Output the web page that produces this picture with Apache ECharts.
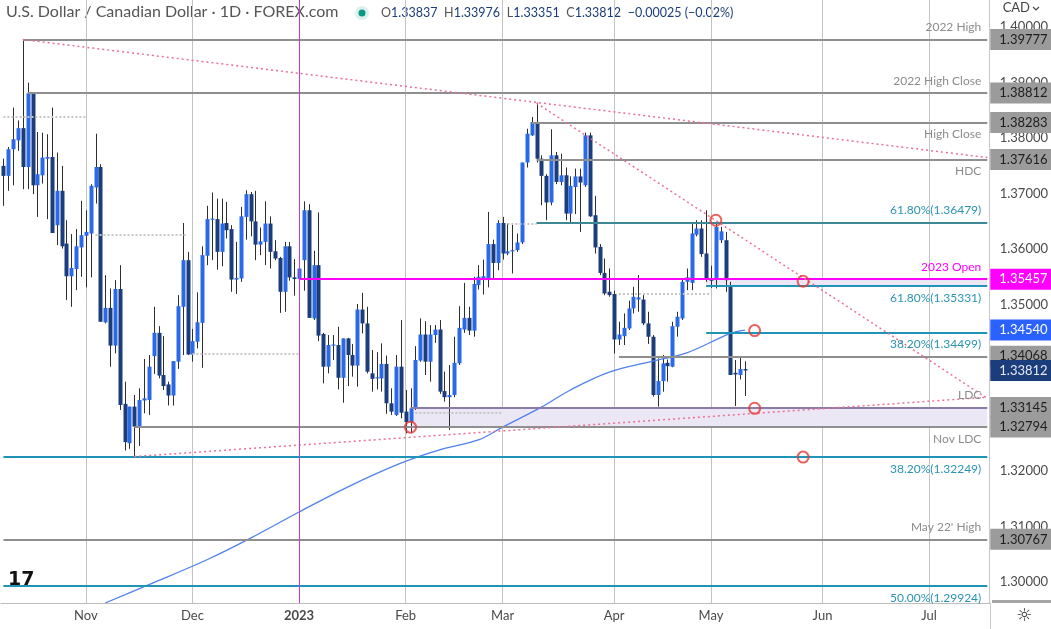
<!DOCTYPE html>
<html lang="en">
<head>
<meta charset="UTF-8">
<title>USD/CAD 1D</title>
<style>
  html, body {margin: 0; padding: 0; background: #fff;}
  #chart {width: 1051px; height: 629px;}
</style>
</head>
<body>
<div id="chart"></div>
<script src="https://cdn.jsdelivr.net/npm/echarts@6/dist/echarts.min.js"></script>
<script>
const FONT = 'Lato, "DejaVu Sans", sans-serif';

// one bar per weekday, starting Fri 7 Oct 2022
const firstDay = [2022, 9, 7];
const dayCount = 204;
const monthLabels = ['2023', 'Feb', 'Mar', 'Apr', 'May', 'Jun', 'Jul', 'Aug', 'Sep', 'Oct', 'Nov', 'Dec'];

// daily candles (index 0 = 2022-10-07, last = 2023-05-10)
const opens = [
  1.3750,1.3732,1.3780,1.3796,1.3818,1.3748,1.3882,1.3715,1.3733,1.3763,
  1.3766,1.3643,1.3705,1.3610,1.3551,1.3564,1.3603,1.3624,1.3628,1.3711,
  1.3748,1.3468,1.3494,1.3426,1.3528,1.3321,1.3250,1.3316,1.3280,1.3327,
  1.3328,1.3407,1.3449,1.3373,1.3356,1.3336,1.3397,1.3496,1.3580,1.3410,
  1.3433,1.3467,1.3588,1.3653,1.3654,1.3595,1.3647,1.3636,1.3545,1.3547,
  1.3658,1.3699,1.3650,1.3608,1.3613,1.3646,1.3596,1.3584,1.3523,1.3605,
  1.3549,1.3546,1.3580,1.3670,1.3475,1.3571,1.3447,1.3388,1.3426,1.3427,
  1.3368,1.3439,1.3409,1.3390,1.3491,1.3466,1.3376,1.3367,1.3367,1.3393,
  1.3322,1.3301,1.3388,1.3307,1.3288,1.3313,1.3399,1.3446,1.3397,1.3445,
  1.3455,1.3344,1.3333,1.3337,1.3394,1.3455,1.3476,1.3453,1.3535,1.3547,
  1.3547,1.3609,1.3575,1.3647,1.3592,1.3596,1.3598,1.3612,1.3756,1.3805,
  1.3829,1.3763,1.3732,1.3684,1.3769,1.3721,1.3733,1.3664,1.3712,1.3731,
  1.3715,1.3805,1.3661,1.3604,1.3557,1.3523,1.3519,1.3437,1.3443,1.3457,
  1.3493,1.3509,1.3509,1.3466,1.3442,1.3337,1.3362,1.3395,1.3388,1.3460,
  1.3475,1.3541,1.3539,1.3626,1.3637,1.3592,1.3547,1.3547,1.3616,1.3616,
  1.3535,1.3377,1.3373,1.33837
];
const closes = [
  1.3732,1.3780,1.3798,1.3818,1.3748,1.3881,1.3715,1.3735,1.3765,1.3766,
  1.3629,1.3705,1.3605,1.3551,1.3566,1.3605,1.3625,1.3631,1.3714,1.3748,
  1.3469,1.3494,1.3426,1.3528,1.3319,1.3252,1.3316,1.3280,1.3328,1.3331,
  1.3388,1.3449,1.3372,1.3353,1.3336,1.3398,1.3497,1.3580,1.3410,1.3434,
  1.3468,1.3589,1.3654,1.3655,1.3595,1.3646,1.3634,1.3545,1.3548,1.3659,
  1.3699,1.3650,1.3608,1.3614,1.3646,1.3595,1.3583,1.3523,1.3605,1.3549,
  1.3546,1.3565,1.3670,1.3476,1.3571,1.3444,1.3388,1.3427,1.3428,1.3368,
  1.3439,1.3409,1.3390,1.3491,1.3466,1.3379,1.3366,1.3369,1.3393,1.3322,
  1.3307,1.3388,1.3305,1.3288,1.3313,1.3400,1.3446,1.3397,1.3446,1.3455,
  1.3343,1.3333,1.3337,1.3395,1.3458,1.3476,1.3453,1.3537,1.3550,1.3551,
  1.3609,1.3575,1.3647,1.3592,1.3596,1.3598,1.3612,1.3756,1.3808,1.3829,
  1.3763,1.3732,1.3684,1.3769,1.3721,1.3733,1.3664,1.3714,1.3731,1.3720,
  1.3805,1.3659,1.3603,1.3557,1.3520,1.3517,1.3437,1.3446,1.3458,1.3493,
  1.3514,1.3513,1.3466,1.3442,1.3337,1.3362,1.3394,1.3389,1.3461,1.3478,
  1.3541,1.3549,1.3628,1.3637,1.3591,1.3547,1.3543,1.3640,1.3632,1.3544,
  1.3373,1.3374,1.33837,1.33812
];
const lows = [
  1.3678,1.3705,1.3715,1.3777,1.3708,1.3708,1.3699,1.3658,1.3718,1.3654,
  1.3629,1.3607,1.3601,1.3508,1.3496,1.3526,1.3550,1.3531,1.3549,1.3682,
  1.3469,1.3466,1.3388,1.3412,1.3310,1.3237,1.3240,1.3226,1.3245,1.3304,
  1.3301,1.3375,1.3367,1.3346,1.3318,1.3318,1.3384,1.3409,1.3409,1.3397,
  1.3421,1.3386,1.3571,1.3580,1.3563,1.3569,1.3619,1.3523,1.3519,1.3541,
  1.3617,1.3623,1.3580,1.3589,1.3571,1.3565,1.3580,1.3485,1.3487,1.3543,
  1.3516,1.3545,1.3525,1.3476,1.3472,1.3434,1.3358,1.3376,1.3400,1.3347,
  1.3323,1.3353,1.3370,1.3352,1.3448,1.3376,1.3343,1.3347,1.3343,1.3303,
  1.3301,1.3299,1.3295,1.3268,1.3268,1.3310,1.3397,1.3373,1.3361,1.3431,
  1.3339,1.3325,1.3274,1.3333,1.3391,1.3449,1.3445,1.3442,1.3527,1.3518,
  1.3531,1.3546,1.3562,1.3581,1.3589,1.3556,1.3595,1.3609,1.3747,1.3804,
  1.3756,1.3679,1.3652,1.3679,1.3717,1.3715,1.3652,1.3647,1.3663,1.3631,
  1.3712,1.3658,1.3592,1.3553,1.3517,1.3514,1.3412,1.3427,1.3427,1.3454,
  1.3484,1.3487,1.3463,1.3429,1.3334,1.3316,1.3343,1.3361,1.3387,1.3442,
  1.3472,1.3526,1.3526,1.3623,1.3586,1.3541,1.3530,1.3529,1.3611,1.3523,
  1.3373,1.3317,1.3365,1.33351
];
const highs = [
  1.3763,1.3784,1.3855,1.3832,1.39777,1.3900,1.3882,1.3811,1.3810,1.3807,
  1.3855,1.3774,1.3750,1.3652,1.3627,1.3636,1.3687,1.3670,1.3717,1.3808,
  1.3753,1.3553,1.3529,1.3544,1.3571,1.3361,1.3316,1.3337,1.3349,1.3402,
  1.3409,1.3496,1.3461,1.3443,1.3361,1.3398,1.3517,1.3647,1.3595,1.3456,
  1.3522,1.3605,1.3678,1.3702,1.3691,1.3691,1.3685,1.3643,1.3613,1.3676,
  1.3706,1.3703,1.3705,1.3639,1.3686,1.3659,1.3616,1.3586,1.3613,1.3613,
  1.3582,1.3568,1.3686,1.3681,1.3597,1.3666,1.3449,1.3445,1.3445,1.3460,
  1.3439,1.3440,1.3429,1.3501,1.3521,1.3496,1.3418,1.3414,1.3430,1.3408,
  1.3349,1.3409,1.3472,1.3346,1.3349,1.3425,1.3475,1.3470,1.3463,1.3463,
  1.3472,1.3379,1.3391,1.3442,1.3497,1.3539,1.3496,1.3550,1.3571,1.3581,
  1.3667,1.3617,1.3652,1.3658,1.3646,1.3646,1.3628,1.3756,1.3817,1.3838,
  1.3864,1.3769,1.3735,1.3816,1.3775,1.3772,1.3747,1.3731,1.3745,1.3745,
  1.3810,1.3810,1.3696,1.3609,1.3583,1.3565,1.3525,1.3469,1.3484,1.3507,
  1.3532,1.3553,1.3517,1.3487,1.3445,1.3403,1.3409,1.3401,1.3469,1.3487,
  1.3547,1.3565,1.3649,1.3652,1.3652,1.3670,1.3570,1.3649,1.3640,1.3631,
  1.3541,1.3400,1.3406,1.33976
];

// 200-day moving average, read at a few bars
const maIdx = [21, 30, 42, 51, 61, 71, 82, 90, 98, 103, 111, 117, 125, 134, 141, 150, 153];
const maVal = [1.2962, 1.2995, 1.3040, 1.3079, 1.3126, 1.3171, 1.3214, 1.3238, 1.3256, 1.3279, 1.3315, 1.3346, 1.3378, 1.3398, 1.3413, 1.3448, 1.3454];

// horizontal levels drawn on the chart
const levels     = [1.39777, 1.38812, 1.38283, 1.37616, 1.36479, 1.35457, 1.35331, 1.34499, 1.34068, 1.33145, 1.32794, 1.32249, 1.30767, 1.29924];
const levelStart = [4, 5, 109, 110, 110, 61, 145, 145, 127, 84, 27, 0, 0, 0];
const levelNames = ['2022 High', '2022 High Close', 'High Close', 'HDC', '61.80%(1.36479)', '2023 Open', '61.80%(1.35331)',
                    '38.20%(1.34499)', '', 'LDC', 'Nov LDC', '38.20%(1.32249)', "May 22' High", '50.00%(1.29924)'];
const levelKinds = ['grey', 'grey', 'grey', 'grey', 'fibDark', 'open', 'fib', 'fib', 'grey', 'ldc', 'grey', 'fib', 'grey', 'fib'];
const nameBelow  = [false, false, true, true, false, false, true, true, false, false, true, true, false, true];
const boxedLevels = [1.39777, 1.38812, 1.38283, 1.37616, 1.35457, 1.34068, 1.33145, 1.32794, 1.30767];

// shaded zones [fromBar, top, bottom]
const zones = [[84, 1.33145, 1.32794], [145, 1.35457, 1.35331]];

// short dotted grey levels
const dotLevels = [1.3838, 1.3625, 1.3411, 1.3305, 1.3646, 1.3519];
const dotFrom   = [0, 19, 39, 85, 104, 127];
const dotTo     = [17, 38, 61, 103, 110, 146];

// trendlines [bar, price] -> [bar, price]
const trendFrom = [[4, 1.39777], [110, 1.3863], [27, 1.3226]];
const trendTo   = [[203, 1.3765], [203, 1.3331], [203, 1.3333]];

// red circle markers
const circleX = [84, 147, 165, 155, 155, 165];
const circleY = [1.3279, 1.3652, 1.3542, 1.3453, 1.3313, 1.3225];

const lastClose = 1.33812;
const lastMa = 1.34540;

// ---------------------------------------------------------------
const days = [];
(function () {
  const d = new Date(Date.UTC(firstDay[0], firstDay[1], firstDay[2]));
  while (days.length < dayCount) {
    const wd = d.getUTCDay();
    if (wd !== 0 && wd !== 6) days.push(d.toISOString().slice(0, 10));
    d.setUTCDate(d.getUTCDate() + 1);
  }
})();
const LAST = dayCount - 1;

function isMonthStart(i) {
  return i > 0 && days[i].slice(5, 7) !== days[i - 1].slice(5, 7);
}

const UP = '#2a6ae6';
const DOWN = '#1b3d7c';
const HIDDEN = {color: 'rgba(0,0,0,0)', width: 1};

const kindStyle = {
  grey:    {line: {color: '#8f8f8f', width: 2}, text: '#8c8c8c'},
  fib:     {line: {color: '#1f94b6', width: 2}, text: '#2a93b3'},
  fibDark: {line: {color: '#3d8797', width: 2}, text: '#2a93b3'},
  open:    {line: {color: '#ff00ff', width: 2}, text: '#ff00ff'},
  ldc:     {line: {color: '#8b7ba8', width: 2}, text: '#8c8c8c'}
};

function boxLabel(text, bg, fg) {
  return {
    show: true, position: 'end', distance: 3, formatter: text,
    backgroundColor: bg, color: fg, fontSize: 13, fontFamily: FONT,
    lineHeight: 15, padding: [4, 2, 2, 9], width: 50
  };
}

const markLines = [];

// dotted grey stubs
dotLevels.forEach(function (v, k) {
  markLines.push([
    {coord: [dotFrom[k], v], lineStyle: {color: '#c6c6c6', width: 2, type: 'dotted'}, label: {show: false}},
    {coord: [dotTo[k], v]}
  ]);
});

// levels
levels.forEach(function (v, k) {
  const st = kindStyle[levelKinds[k]];
  markLines.push([
    {coord: [levelStart[k], v], lineStyle: {color: st.line.color, width: st.line.width, type: 'solid'}, label: {show: false}},
    {coord: [LAST, v]}
  ]);
  if (levelNames[k]) {
    markLines.push([
      {coord: [levelStart[k], v], lineStyle: HIDDEN,
       label: {show: true, position: nameBelow[k] ? 'insideEndBottom' : 'insideEndTop', distance: 6,
               formatter: levelNames[k], color: st.text, fontSize: 12, fontFamily: FONT}},
      {coord: [LAST, v]}
    ]);
  }
});

// price boxes on the right scale
boxedLevels.forEach(function (v) {
  const isOpen = v === 1.35457;
  markLines.push([
    {coord: [LAST - 1, v], lineStyle: HIDDEN,
     label: boxLabel(v.toFixed(5), isOpen ? '#ff00ff' : '#9b9b9b', isOpen ? '#ffffff' : '#1e1e1e')},
    {coord: [LAST, v]}
  ]);
});
markLines.push([
  {coord: [LAST - 1, lastMa], lineStyle: HIDDEN, label: boxLabel(lastMa.toFixed(5), '#2962ff', '#ffffff')},
  {coord: [LAST, lastMa]}
]);
markLines.push([
  {coord: [LAST - 1, lastClose], lineStyle: HIDDEN, label: boxLabel(lastClose.toFixed(5), '#1b3d7c', '#e6e9f2')},
  {coord: [LAST, lastClose]}
]);

// trendlines
trendFrom.forEach(function (p, k) {
  markLines.push([
    {coord: p, lineStyle: {color: '#ec6f96', width: 1.5, type: [2, 3]}, label: {show: false}},
    {coord: trendTo[k]}
  ]);
});

// 2023 vertical marker
markLines.push({xAxis: days[61], lineStyle: {color: '#c23bd0', width: 1, type: 'solid'}, label: {show: false}});

const markAreas = zones.map(function (z) {
  return [{coord: [z[0], z[1]]}, {coord: [LAST, z[2]]}];
});

function renderCandle(params, api) {
  const i = api.value(0);
  const o = api.value(1), c = api.value(2), l = api.value(3), h = api.value(4);
  const pO = api.coord([i, o]);
  const pC = api.coord([i, c]);
  const pL = api.coord([i, l]);
  const pH = api.coord([i, h]);
  const xi = Math.round(pO[0]);
  const top = Math.min(pO[1], pC[1]);
  const hgt = Math.max(Math.abs(pO[1] - pC[1]), 1.2);
  return {
    type: 'group',
    children: [
      {type: 'line', shape: {x1: xi + 0.5, y1: pH[1], x2: xi + 0.5, y2: pL[1]}, style: {stroke: '#2e2e2e', lineWidth: 1}},
      {type: 'rect', shape: {x: xi - 1.5, y: top, width: 4, height: hgt}, style: {fill: c >= o ? UP : DOWN}}
    ]
  };
}

const candleData = opens.map(function (o, i) {
  return [i, o, closes[i], lows[i], highs[i]];
});

const chart = echarts.init(document.getElementById('chart'));

chart.setOption({
  animation: false,
  backgroundColor: '#ffffff',
  textStyle: {fontFamily: FONT},
  grid: {left: 1, right: 61, top: 0, bottom: 26},
  xAxis: {
    type: 'category',
    data: days,
    boundaryGap: true,
    axisLine: {lineStyle: {color: '#bdbdbd'}},
    axisTick: {show: false},
    axisLabel: {
      interval: function (i) { return isMonthStart(i); },
      formatter: function (v) {
        const m = parseInt(v.slice(5, 7), 10) - 1;
        return m === 0 ? '{b|' + monthLabels[0] + '}' : monthLabels[m];
      },
      rich: {b: {fontWeight: 'bold', color: '#4a4a4a', fontSize: 13, fontFamily: FONT}},
      color: '#4a4a4a', fontSize: 13, margin: 6, fontFamily: FONT
    },
    splitLine: {
      show: true,
      alignWithLabel: true,
      interval: function (i) { return isMonthStart(i); },
      lineStyle: {color: '#c3c3c3', width: 1}
    }
  },
  yAxis: {
    type: 'value',
    position: 'right',
    min: 1.2962,
    max: 1.4049,
    splitNumber: 11,
    axisLine: {show: true, lineStyle: {color: '#c8c8c8'}},
    axisTick: {show: false},
    splitLine: {show: false},
    axisLabel: {
      color: '#4a4a4a', fontSize: 13, margin: 10, fontFamily: FONT,
      showMinLabel: false, showMaxLabel: false,
      formatter: function (v) { return v.toFixed(5); }
    }
  },
  series: [
    {
      type: 'custom',
      name: 'USDCAD',
      renderItem: renderCandle,
      data: candleData,
      encode: {x: 0, y: [1, 2, 3, 4]},
      z: 2
    },
    {
      type: 'line',
      name: 'MA',
      data: maIdx.map(function (x, k) { return [x, maVal[k]]; }),
      smooth: 0.35,
      symbol: 'none',
      lineStyle: {color: '#4f82ec', width: 1.3},
      z: 3,
      markArea: {
        silent: true,
        itemStyle: {color: '#ebe7f4'},
        data: markAreas
      },
      markLine: {
        silent: true,
        symbol: ['none', 'none'],
        data: markLines
      }
    },
    {
      type: 'scatter',
      name: 'marks',
      data: circleX.map(function (x, k) { return [x, circleY[k]]; }),
      symbol: 'circle',
      symbolSize: 11,
      itemStyle: {color: 'rgba(255,255,255,0)', borderColor: '#e53935', borderWidth: 2},
      z: 8
    }
  ],
  graphic: [
    {type: 'text', left: 6, top: 4, style: {text: 'U.S. Dollar / Canadian Dollar · 1D · FOREX.com', fill: '#555', font: '16px ' + FONT}},
    {type: 'circle', shape: {cx: 362, cy: 13, r: 7}, style: {fill: 'rgba(8,153,129,0.14)'}},
    {type: 'circle', shape: {cx: 362, cy: 13, r: 3.5}, style: {fill: '#089981'}},
    {
      type: 'text', left: 381, top: 6,
      style: {
        text: '{l|O}{v|1.33837}  {l|H}{v|1.33976}  {l|L}{v|1.33351}  {l|C}{v|1.33812}  {v|−0.00025 (−0.02%)}',
        rich: {
          l: {fill: '#555', font: '12.5px ' + FONT},
          v: {fill: '#1b3d7c', font: '12.5px ' + FONT}
        }
      }
    },
    {type: 'text', right: 21, top: 1, style: {text: 'CAD', fill: '#444', font: '13px ' + FONT}},
    {type: 'polyline', shape: {points: [[1033, 7], [1036, 10], [1039, 7]]}, style: {stroke: '#444', lineWidth: 1.2, fill: null}},
    {type: 'text', left: 8, top: 571, style: {text: '17', fill: '#111', font: 'bold 19px "DejaVu Sans"'}},
    {type: 'line', shape: {x1: 990.5, y1: 603, x2: 990.5, y2: 629}, style: {stroke: '#c8c8c8', lineWidth: 1}},
    {type: 'rect', shape: {x: 992, y: 600, width: 59, height: 3}, style: {fill: '#a5a5a5'}},
    {type: 'text', left: 1016, top: 607, style: {text: '☼', fill: '#333', font: '18px "DejaVu Sans"'}}
  ]
});
</script>
</body>
</html>
